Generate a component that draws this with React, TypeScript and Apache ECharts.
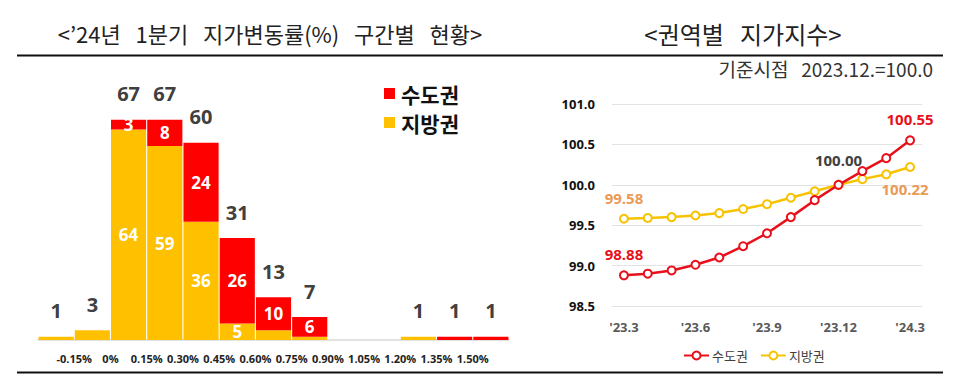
import React, { useEffect, useRef } from 'react';
import * as echarts from 'echarts';

// ---------- Left panel: distribution of land price change rate ----------
const barCategories = [
  '-0.30~-0.15%', '-0.15~0%', '0~0.15%', '0.15~0.30%', '0.30~0.45%', '0.45~0.60%',
  '0.60~0.75%', '0.75~0.90%', '0.90~1.05%', '1.05~1.20%', '1.20~1.35%', '1.35~1.50%', '1.50~1.65%',
];
const boundaryLabels = [
  '-0.15%', '0%', '0.15%', '0.30%', '0.45%', '0.60%', '0.75%', '0.90%', '1.05%', '1.20%', '1.35%', '1.50%',
];
const regionalCounts = [1, 3, 64, 59, 36, 5, 3, 1, 0, 0, 1, 0, 0]; // 지방권
const capitalCounts = [0, 0, 3, 8, 24, 26, 10, 6, 0, 0, 0, 1, 1]; // 수도권

// ---------- Right panel: land price index by region ----------
const months = [
  "'23.3", "'23.4", "'23.5", "'23.6", "'23.7", "'23.8", "'23.9",
  "'23.10", "'23.11", "'23.12", "'24.1", "'24.2", "'24.3",
];
const capitalIndex = [98.88, 98.9, 98.94, 99.01, 99.1, 99.24, 99.4, 99.6, 99.81, 100.0, 100.17, 100.33, 100.55];
const regionalIndex = [99.58, 99.59, 99.6, 99.62, 99.65, 99.7, 99.76, 99.84, 99.92, 100.0, 100.07, 100.13, 100.22];
const indexTicks = { min: 98.5, max: 101, interval: 0.5 };

const titleLeft = "<’24년   1분기   지가변동률(%)   구간별   현황>";
const titleRight = '<권역별   지가지수>';
const baseNote = '기준시점   2023.12.=100.0';

const FONT = "'Noto Sans CJK KR', 'Open Sans', sans-serif";
const NUMFONT = "'Open Sans', 'Noto Sans CJK KR', sans-serif";
const RED = '#FF0000';
const YEL = '#FFC000';
const LINE_RED = '#E8101A';
const LINE_YEL = '#F7C300';
const ORANGE = '#EA9A55';

export default function App() {
  const ref = useRef<HTMLDivElement>(null);

  useEffect(() => {
    if (!ref.current) return;
    const chart = echarts.init(ref.current, undefined, { renderer: 'svg' });
    const totals = capitalCounts.map((v, i) => v + regionalCounts[i]);
    const last = months.length - 1;
    const mid = months.indexOf("'23.12");

    const lineLabel = (color: string, extra: any = {}) => ({
      show: true,
      color,
      fontSize: 15,
      fontWeight: 'bold',
      fontFamily: NUMFONT,
      formatter: (p: any) => Number(p.value).toFixed(2),
      ...extra,
    });

    const capitalData = capitalIndex.map((v, i) => {
      if (i === 0) return { value: v, label: lineLabel(LINE_RED, { position: 'top', distance: 9 }) };
      if (i === last) return { value: v, label: lineLabel(LINE_RED, { position: 'top', distance: 9 }) };
      return v;
    });
    const regionalData = regionalIndex.map((v, i) => {
      if (i === 0) return { value: v, label: lineLabel(ORANGE, { position: 'top', distance: 8 }) };
      if (i === mid) return { value: v, label: lineLabel('#404040', { position: 'top', distance: 12 }) };
      if (i === last) return { value: v, label: lineLabel(ORANGE, { position: 'bottom', distance: 9, offset: [-5, 0] }) };
      return v;
    });

    const option: any = {
      animation: false,
      textStyle: { fontFamily: FONT },
      grid: [
        { left: 38, right: 451, top: 77, bottom: 44 },
        { left: 612, right: 38, top: 104, bottom: 78 },
      ],
      xAxis: [
        {
          type: 'category',
          gridIndex: 0,
          data: barCategories,
          axisLine: { show: true, lineStyle: { color: '#D9D9D9', width: 1.5 } },
          axisTick: { show: false },
          axisLabel: { show: false },
        },
        {
          type: 'category',
          gridIndex: 0,
          position: 'bottom',
          boundaryGap: false,
          data: ['', ...boundaryLabels, ''],
          axisLine: { show: false },
          axisTick: { show: false },
          axisLabel: {
            interval: 0,
            margin: 13,
            fontSize: 11,
            fontWeight: 'bold',
            color: '#222',
            fontFamily: NUMFONT,
          },
        },
        {
          type: 'category',
          gridIndex: 1,
          data: months,
          axisLine: { show: false },
          axisTick: { show: false },
          axisLabel: {
            interval: 2,
            margin: 14,
            fontSize: 13,
            fontWeight: 'bold',
            color: '#595959',
            fontFamily: NUMFONT,
          },
        },
      ],
      yAxis: [
        { type: 'value', gridIndex: 0, min: 0, max: 80, show: false, splitLine: { show: false } },
        {
          type: 'value',
          gridIndex: 1,
          min: indexTicks.min,
          max: indexTicks.max,
          interval: indexTicks.interval,
          axisLine: { show: false },
          axisTick: { show: false },
          axisLabel: {
            margin: 17,
            fontSize: 13,
            fontWeight: 'bold',
            color: '#111',
            fontFamily: NUMFONT,
            formatter: (v: number) => v.toFixed(1),
          },
          splitLine: { show: true, lineStyle: { color: '#E3E3E3', width: 1 } },
        },
      ],
      legend: {
        left: 678,
        top: 344,
        itemWidth: 25,
        itemHeight: 10,
        itemGap: 12,
        data: ['수도권', '지방권'],
        textStyle: { fontSize: 13, color: '#404040', fontFamily: FONT, padding: [0, 0, 0, -2] },
      },
      series: [
        {
          name: '수도권',
          type: 'line',
          xAxisIndex: 2,
          yAxisIndex: 1,
          data: capitalData,
          symbol: 'circle',
          symbolSize: 8,
          itemStyle: { color: '#fff', borderColor: LINE_RED, borderWidth: 2 },
          lineStyle: { color: LINE_RED, width: 2.5 },
          z: 3,
        },
        {
          name: '지방권',
          type: 'line',
          xAxisIndex: 2,
          yAxisIndex: 1,
          data: regionalData,
          symbol: 'circle',
          symbolSize: 8,
          itemStyle: { color: '#fff', borderColor: LINE_YEL, borderWidth: 2 },
          lineStyle: { color: LINE_YEL, width: 2.5 },
          z: 2,
        },
        {
          name: '지방권',
          type: 'bar',
          stack: 'cnt',
          xAxisIndex: 0,
          yAxisIndex: 0,
          barCategoryGap: '3%',
          data: regionalCounts,
          itemStyle: { color: YEL },
          label: {
            show: true,
            position: 'inside',
            color: '#fff',
            fontSize: 17,
            fontWeight: 'bold',
            fontFamily: NUMFONT,
            formatter: (p: any) => (p.value >= 5 ? String(p.value) : ''),
          },
        },
        {
          name: '수도권',
          type: 'bar',
          stack: 'cnt',
          xAxisIndex: 0,
          yAxisIndex: 0,
          barCategoryGap: '3%',
          data: capitalCounts,
          itemStyle: { color: RED },
          label: {
            show: true,
            position: 'inside',
            color: '#fff',
            fontSize: 17,
            fontWeight: 'bold',
            fontFamily: NUMFONT,
            formatter: (p: any) => (p.value >= 3 ? String(p.value) : ''),
          },
        },
        {
          name: 'total',
          type: 'bar',
          stack: 'cnt',
          xAxisIndex: 0,
          yAxisIndex: 0,
          barCategoryGap: '3%',
          data: totals.map(() => 0),
          itemStyle: { color: 'transparent' },
          label: {
            show: true,
            position: 'top',
            distance: 16,
            color: '#404040',
            fontSize: 20,
            fontWeight: 'bold',
            fontFamily: NUMFONT,
            formatter: (p: any) => (totals[p.dataIndex] > 0 ? String(totals[p.dataIndex]) : ''),
          },
        },
      ],
      graphic: [
        {
          type: 'text',
          x: 270,
          y: 33,
          style: { text: titleLeft, font: `22px ${FONT}`, fill: '#222', textAlign: 'center', textVerticalAlign: 'middle' },
        },
        {
          type: 'text',
          x: 743,
          y: 33,
          style: { text: titleRight, font: `24px ${FONT}`, fill: '#222', textAlign: 'center', textVerticalAlign: 'middle' },
        },
        {
          type: 'text',
          x: 933,
          y: 68,
          style: { text: baseNote, font: `19px ${FONT}`, fill: '#333', textAlign: 'right', textVerticalAlign: 'middle' },
        },
        { type: 'line', shape: { x1: 17, y1: 55.5, x2: 943, y2: 55.5 }, style: { stroke: '#111', lineWidth: 2 } },
        { type: 'line', shape: { x1: 17, y1: 372.5, x2: 943, y2: 372.5 }, style: { stroke: '#111', lineWidth: 2 } },
        { type: 'rect', shape: { x: 384, y: 88, width: 11, height: 11 }, style: { fill: RED } },
        {
          type: 'text',
          x: 401,
          y: 94,
          style: { text: '수도권', font: `bold 21px ${FONT}`, fill: '#111', textVerticalAlign: 'middle' },
        },
        { type: 'rect', shape: { x: 384, y: 117, width: 11, height: 11 }, style: { fill: YEL } },
        {
          type: 'text',
          x: 401,
          y: 123,
          style: { text: '지방권', font: `bold 21px ${FONT}`, fill: '#111', textVerticalAlign: 'middle' },
        },
      ],
    };

    chart.setOption(option);
    return () => chart.dispose();
  }, []);

  return (
    <div
      ref={ref}
      style={{ position: 'fixed', left: 0, top: 0, width: 960, height: 384, background: '#fff' }}
    />
  );
}
